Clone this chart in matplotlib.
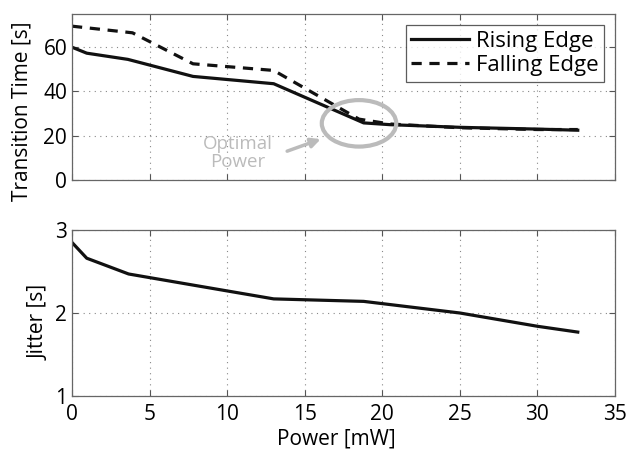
import matplotlib
matplotlib.use("Agg")
import matplotlib.pyplot as plt
from matplotlib.patches import Ellipse

plt.rcParams['font.family'] = ['Open Sans', 'DejaVu Sans']

rise_x = [0, 0.95, 3.6, 7.8, 13.0, 18.8, 20.5, 25, 30, 32.6]
rise_y = [60, 57.3, 54.5, 46.8, 43.5, 25.8, 25.0, 23.8, 23.0, 22.5]
fall_x = [0, 3.9, 7.8, 13.0, 18.5, 20.5, 25, 30, 32.6]
fall_y = [69.5, 66.5, 52.5, 49.5, 27.5, 25.3, 23.6, 22.8, 22.8]
jit_x = [0, 0.95, 3.65, 8, 13.0, 18.8, 25, 30, 32.6]
jit_y = [2.85, 2.66, 2.47, 2.33, 2.17, 2.14, 2.0, 1.84, 1.77]

fig = plt.figure(figsize=(6.27, 4.51), dpi=100)
W, H = 627, 451
ax1 = fig.add_axes([72/W, 1-180/H, (615-72)/W, (180-14)/H])
ax2 = fig.add_axes([72/W, 1-396/H, (615-72)/W, (396-230)/H])

lw = 2.3
ax1.plot(rise_x, rise_y, color='#111111', lw=lw, label='Rising Edge')
ax1.plot(fall_x, fall_y, color='#111111', lw=lw, ls=(0, (3.2, 2.4)), label='Falling Edge')
ax2.plot(jit_x, jit_y, color='#111111', lw=lw)

for ax in (ax1, ax2):
    ax.set_xlim(0, 35)
    ax.set_xticks([0, 5, 10, 15, 20, 25, 30, 35])
    ax.grid(True, ls=(0, (1, 4)), color='#888888', lw=0.8)
    ax.tick_params(direction='in', top=True, right=True, labelsize=15, length=4, color='#555555')
    for s in ax.spines.values():
        s.set_color('#666666')
        s.set_linewidth(0.9)
ax2.tick_params(axis='x', pad=6)

ax1.set_ylim(0, 75)
ax1.set_yticks([0, 20, 40, 60])
ax1.set_xticklabels([])
ax1.set_ylabel('Transition Time [s]', fontsize=15)
ax1.yaxis.set_label_coords(-0.072, 0.416)

ax2.set_ylim(1, 3)
ax2.set_yticks([1, 2, 3])
ax2.set_ylabel('Jitter [s]', fontsize=15)
ax2.yaxis.set_label_coords(-0.041, 0.446)
ax2.set_xlabel('Power [mW]', fontsize=15)
ax2.xaxis.set_label_coords(0.486, -0.198)

leg = ax1.legend(loc='upper right', fontsize=16, frameon=True, fancybox=False,
                 handlelength=2.6, handletextpad=0.3, borderpad=0.25, labelspacing=0.15,
                 borderaxespad=0.5)
leg.get_frame().set_edgecolor('#333333')
leg.get_frame().set_linewidth(0.9)

ell = Ellipse((18.5, 25.6), 4.8, 21, fill=False, ec='#bbbbbb', lw=3, zorder=5)
ax1.add_patch(ell)
ax1.text(10.67, 12, 'Optimal\nPower', color='#bbbbbb', fontsize=13.5, ha='center', va='center',
         linespacing=1.0)
ax1.annotate('', xy=(16.2, 18.9), xytext=(13.7, 12.6),
             arrowprops=dict(arrowstyle='-|>', color='#bbbbbb', lw=2.5, mutation_scale=14))

fig.savefig('out.png', dpi=100)
